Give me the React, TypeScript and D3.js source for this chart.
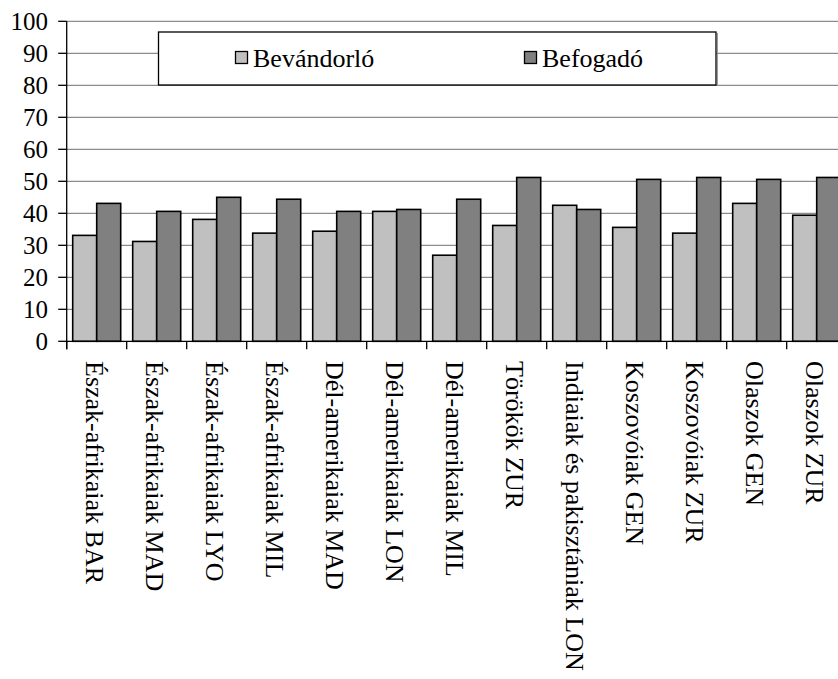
import React, { useEffect, useRef } from "react";
import * as d3 from "d3";

const categories = [
  "Észak-afrikaiak BAR",
  "Észak-afrikaiak MAD",
  "Észak-afrikaiak LYO",
  "Észak-afrikaiak MIL",
  "Dél-amerikaiak MAD",
  "Dél-amerikaiak LON",
  "Dél-amerikaiak MIL",
  "Törökök ZUR",
  "Indiaiak és pakisztániak LON",
  "Koszovóiak GEN",
  "Koszovóiak ZUR",
  "Olaszok GEN",
  "Olaszok ZUR",
];
const seriesNames = ["Bevándorló", "Befogadó"];
const bevandorlo = [33.1, 31.2, 38.1, 33.8, 34.4, 40.6, 26.9, 36.2, 42.5, 35.6, 33.8, 43.1, 39.4];
const befogado = [43.1, 40.6, 45.0, 44.4, 40.6, 41.2, 44.4, 51.2, 41.2, 50.6, 51.2, 50.6, 51.2];
const yTicks = [0, 10, 20, 30, 40, 50, 60, 70, 80, 90, 100];
const colors = ["#c0c0c0", "#808080"];

const W = 838;
const H = 679;
const left = 66.7;
const top = 21.3;
const bottom = 341.3;
const step = 60;
const FONT = '"Liberation Serif", "Times New Roman", serif';

export default function App() {
  const ref = useRef<SVGSVGElement>(null);

  useEffect(() => {
    document.body.style.margin = "0";
    const svg = d3.select(ref.current);
    svg.selectAll("*").remove();

    const x = d3
      .scaleBand<string>()
      .domain(categories)
      .range([left, left + step * categories.length])
      .paddingInner(0.2)
      .paddingOuter(0.1);
    const xs = d3.scaleBand<string>().domain(seriesNames).range([0, x.bandwidth()]).padding(0);
    const y = d3.scaleLinear().domain([0, 100]).range([bottom, top]);
    const values = [bevandorlo, befogado];

    svg.append("rect").attr("width", W).attr("height", H).attr("fill", "#fff");

    // gridlines
    svg
      .selectAll(".grid")
      .data(yTicks.filter((t) => t > 0))
      .join("line")
      .attr("x1", left)
      .attr("x2", W)
      .attr("y1", (d) => y(d))
      .attr("y2", (d) => y(d))
      .attr("stroke", "#8c8c8c")
      .attr("stroke-width", 1.3);

    // legend
    svg
      .append("rect")
      .attr("x", 158.5)
      .attr("y", 32)
      .attr("width", 557.5)
      .attr("height", 53)
      .attr("fill", "#fff")
      .attr("stroke", "#000")
      .attr("stroke-width", 1.3);
    svg
      .append("line")
      .attr("x1", 717.5)
      .attr("x2", 717.5)
      .attr("y1", 33)
      .attr("y2", 86)
      .attr("stroke", "#999");
    seriesNames.forEach((s, i) => {
      const lx = i === 0 ? 235.5 : 524.5;
      svg
        .append("rect")
        .attr("x", lx)
        .attr("y", 51.5)
        .attr("width", 12)
        .attr("height", 12)
        .attr("fill", colors[i])
        .attr("stroke", "#000")
        .attr("stroke-width", 1.3);
      svg
        .append("text")
        .attr("x", lx + 17.5)
        .attr("y", 66.7)
        .attr("font-size", 26)
        .text(s);
    });

    // bars
    categories.forEach((c, ci) => {
      seriesNames.forEach((s, si) => {
        const v = values[si][ci];
        svg
          .append("rect")
          .attr("x", (x(c) as number) + (xs(s) as number))
          .attr("y", y(v))
          .attr("width", xs.bandwidth())
          .attr("height", y(0) - y(v))
          .attr("fill", colors[si])
          .attr("stroke", "#000")
          .attr("stroke-width", 1.6);
      });
    });

    // axes
    svg.append("line").attr("x1", left).attr("x2", W).attr("y1", bottom).attr("y2", bottom).attr("stroke", "#000").attr("stroke-width", 1.3);
    svg.append("line").attr("x1", left).attr("x2", left).attr("y1", top).attr("y2", bottom + 8).attr("stroke", "#000").attr("stroke-width", 1.3);
    yTicks.forEach((t) => {
      svg.append("line").attr("x1", left - 8.5).attr("x2", left).attr("y1", y(t)).attr("y2", y(t)).attr("stroke", "#000").attr("stroke-width", 1.3);
      svg
        .append("text")
        .attr("x", 48)
        .attr("y", y(t))
        .attr("dy", "0.34em")
        .attr("text-anchor", "end")
        .attr("font-size", 25)
        .text(String(t));
    });
    d3.range(categories.length + 1).forEach((i) => {
      const bx = left + i * x.step();
      svg.append("line").attr("x1", bx).attr("x2", bx).attr("y1", bottom).attr("y2", bottom + 8).attr("stroke", "#000").attr("stroke-width", 1.3);
    });
    categories.forEach((c) => {
      const cx = (x(c) as number) + x.bandwidth() / 2;
      svg
        .append("text")
        .attr("transform", `translate(${cx},361) rotate(90)`)
        .attr("dy", "0.4em")
        .attr("font-size", 26)
        .text(c);
    });

    svg.selectAll("text").style("font-family", FONT).attr("fill", "#000");
  }, []);

  return <svg ref={ref} width={W} height={H} style={{ display: "block", fontFamily: FONT }} />;
}
